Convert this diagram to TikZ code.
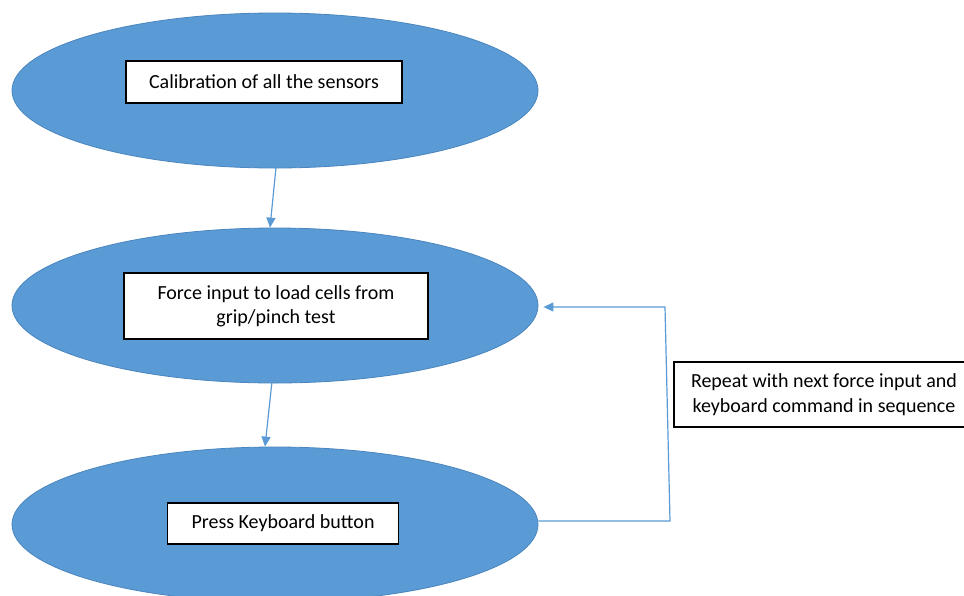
\documentclass[tikz,border=0pt]{standalone}
\usepackage{fontspec}
\setmainfont{Carlito}
\usetikzlibrary{shapes.geometric,arrows.meta}
\definecolor{ofblue}{HTML}{5B9BD5}
\definecolor{ofedge}{HTML}{4A85BE}
\tikzset{
  oval/.style={ellipse, fill=ofblue, draw=ofedge, line width=0.8pt,
    minimum width=526pt, minimum height=155pt, inner sep=0pt},
  txtbox/.style={rectangle, fill=white, draw=black, line width=1.3pt,
    inner sep=0pt, align=center, font=\fontsize{20pt}{24.4pt}\selectfont},
  flow/.style={draw=ofblue, line width=1.2pt,
    -{Triangle[width=9pt,length=10pt]}}
}
\begin{document}
\begin{tikzpicture}[x=1pt,y=-1pt]
\clip (0,0) rectangle (964,595);
\useasboundingbox (0,0) rectangle (964,595);
\fill[white] (0,0) rectangle (964,595);

\node[oval] (e1) at (275,90.5) {};
\node[oval] (e2) at (275,305.5) {};
\node[oval] (e3) at (275,524.5) {};

\node[txtbox, minimum width=276pt, minimum height=42pt] (b1) at (264,82)
  {Calibration of all the sensors};
\node[txtbox, minimum width=304pt, minimum height=66pt] (b2) at (276,306)
  {Force input to load cells from\\grip/pinch test};
\node[txtbox, minimum width=230.5pt, minimum height=41pt] (b3) at (283,523.5)
  {Press Keyboard button};
\node[txtbox, minimum width=300pt, minimum height=65pt] (b4) at (824,394.5)
  {Repeat with next force input and\\keyboard command in sequence};

\coordinate (c1) at (670,521);
\coordinate (c2) at (665,307);

\draw[flow] ([xshift=1pt,yshift=1pt]e1.south) -- ([xshift=-5pt]e2.north);
\draw[flow] ([xshift=-3pt,yshift=2pt]e2.south) -- ([xshift=-10pt]e3.north);
\draw[flow] ([yshift=3.5pt]e3.east) -- (c1) -- (c2) -- ([xshift=5pt,yshift=-1.5pt]e2.east);
\end{tikzpicture}
\end{document}
